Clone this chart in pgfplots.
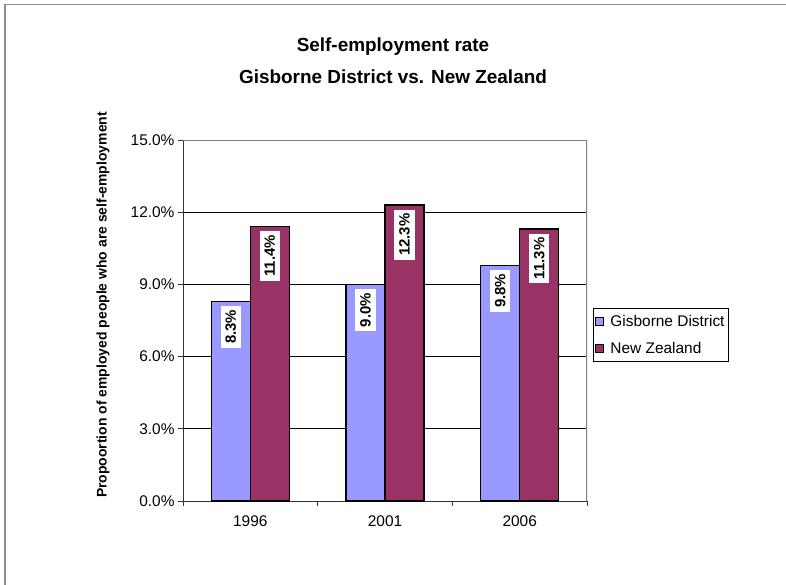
\documentclass[border=0pt]{standalone}
\usepackage{fontspec}
\setmainfont{Liberation Sans}
\usepackage{pgfplots}
\pgfplotsset{compat=1.18}
\definecolor{gis}{HTML}{9999FF}
\definecolor{nz}{HTML}{993366}
\begin{document}
\begin{tikzpicture}[x=1bp,y=1bp]
\path[use as bounding box] (0,0) rectangle (786,-585);
\draw[black!45, line width=1.2bp] (5,-585) -- (5,-4.5) -- (786,-4.5);
\node[font=\bfseries\fontsize{19}{22}\selectfont, anchor=base] at (393,-52) {Self-employment rate};
\node[font=\bfseries\fontsize{19}{22}\selectfont, anchor=base] at (393,-84) {Gisborne District vs. New Zealand};
\node[rotate=90, font=\bfseries\fontsize{14}{16}\selectfont] at (103,-305) {Propoortion of employed people who are self-employment};
\begin{axis}[
  at={(183bp,-501bp)}, anchor=south west,
  scale only axis, width=404bp, height=361bp,
  ymin=0, ymax=15, xmin=-0.5, xmax=2.5,
  ytick={0,3,6,9,12,15},
  yticklabels={0.0\%,3.0\%,6.0\%,9.0\%,12.0\%,15.0\%},
  xtick={-0.5,0.5,1.5,2.5},
  x tick label as interval,
  xticklabels={1996,2001,2006},
  xticklabel style={yshift=-6bp},
  tick label style={font=\fontsize{15.5}{18}\selectfont},
  axis lines*=left,
  axis line style={draw=black!80, line width=1bp},
  tick align=outside,
  major tick length=5bp,
  tick style={draw=black!80, line width=0.8bp},
  ymajorgrids,
  grid style={draw=black, line width=0.8bp},
  ybar=0pt, bar width=39bp,
  /pgf/number format/assume math mode=true,
  nodes near coords={\pgfmathprintnumber[fixed,fixed zerofill,precision=1]{\pgfplotspointmeta}\%},
  every node near coord/.append style={yshift=-4bp, rotate=90, anchor=east, fill=white,
     font=\bfseries\fontsize{15}{18}\selectfont, inner xsep=4bp, inner ysep=5bp, text=black},
  legend style={at={(axis description cs:1.0149,0.5346)}, anchor=north west,
     draw=black, line width=0.8bp, font=\fontsize{15.5}{18}\selectfont,
     inner xsep=2bp, inner ysep=5bp, row sep=10bp, cells={anchor=west}},
  legend image code/.code={\draw[#1, draw=black, line width=0.8bp] (2bp,-4bp) rectangle (10bp,4bp); \path (14bp,0bp);},
]
\addplot[fill=gis, draw=black, line width=1.2bp] coordinates {(0,8.3) (1,9.0) (2,9.8)};
\addplot[fill=nz, draw=black, line width=1.2bp] coordinates {(0,11.4) (1,12.3) (2,11.3)};
\legend{Gisborne District, New Zealand}
\draw[black!50, line width=1.2bp] (rel axis cs:0,1) -- (rel axis cs:1,1) -- (rel axis cs:1,0);
\end{axis}
\end{tikzpicture}
\end{document}
